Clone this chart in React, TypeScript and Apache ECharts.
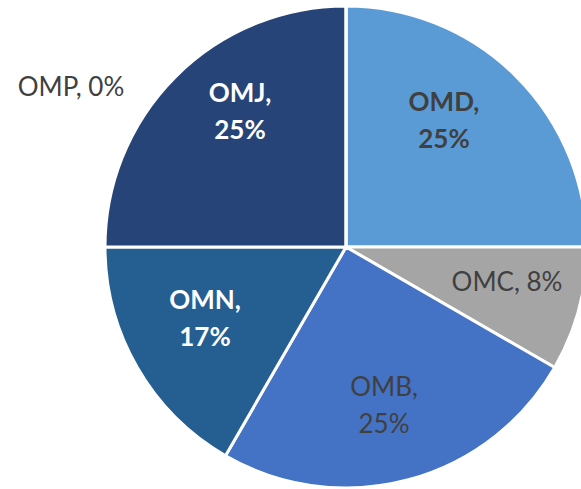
import React, { useEffect, useRef } from "react";
import * as echarts from "echarts";

const categories = ["OMD", "OMC", "OMB", "OMN", "OMJ", "OMP"];
const values = [3, 1, 3, 2, 3, 0];
const colors = ["#5B9BD5", "#A5A5A5", "#4472C4", "#255E91", "#264478", "#9E480E"];
const labelColors = ["#404040", "#404040", "#404040", "#FFFFFF", "#FFFFFF", "#404040"];
const labelBold = [true, false, false, true, true, false];
const twoLine = [true, false, true, true, true, false];
// label anchor positions (px)
const labelPos: [number, number][] = [
  [444, 119],
  [507, 281],
  [384, 404],
  [205, 317],
  [240, 110],
  [71, 86],
];

export default function App() {
  const ref = useRef<HTMLDivElement>(null);
  useEffect(() => {
    if (!ref.current) return;
    const chart = echarts.init(ref.current, null, { renderer: "svg" });
    chart.setOption({
      animation: false,
      backgroundColor: "#FFFFFF",
      series: [
        {
          type: "pie",
          center: [346, 247],
          radius: 241,
          startAngle: 90,
          clockwise: true,
          avoidLabelOverlap: false,
          minShowLabelAngle: 0,
          stillShowZeroSum: true,
          itemStyle: { borderColor: "#FFFFFF", borderWidth: 3 },
          labelLine: { show: false },
          emphasis: { disabled: true },
          data: categories.map((name, i) => ({
            name,
            value: values[i],
            itemStyle: { color: colors[i] },
            label: {
              show: true,
              position: "inside",
              color: labelColors[i],
              fontWeight: labelBold[i] ? "bold" : "normal",
              fontFamily: "Lato",
              fontSize: 26,
              lineHeight: 37,
              align: "center",
              formatter: (p: any) =>
                `${p.name},${twoLine[i] ? "\n" : " "}${Math.round(p.percent)}%`,
            },
          })),
          labelLayout: (params: any) => {
            const pos = labelPos[params.dataIndex];
            return { x: pos[0], y: pos[1], align: "center", verticalAlign: "middle" };
          },
        },
      ],
    });
    return () => chart.dispose();
  }, []);
  return (
    <div
      ref={ref}
      style={{ position: "fixed", left: 0, top: 0, width: 581, height: 489 }}
    />
  );
}
